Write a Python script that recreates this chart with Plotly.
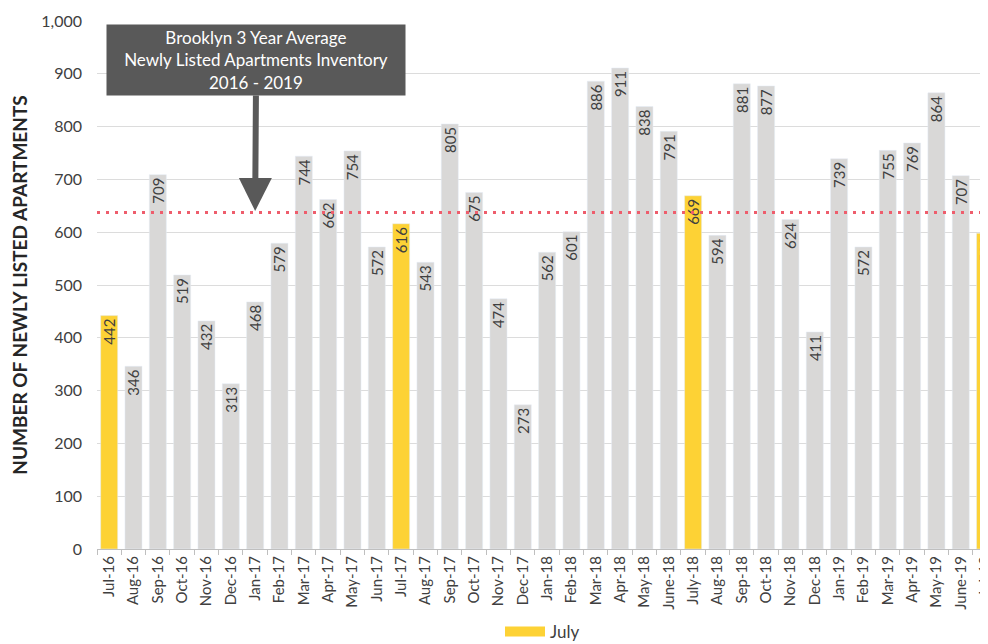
import plotly.graph_objects as go

months = ["Jul-16", "Aug-16", "Sep-16", "Oct-16", "Nov-16", "Dec-16", "Jan-17", "Feb-17",
          "Mar-17", "Apr-17", "May-17", "Jun-17", "Jul-17", "Aug-17", "Sep-17", "Oct-17",
          "Nov-17", "Dec-17", "Jan-18", "Feb-18", "Mar-18", "Apr-18", "May-18", "June-18",
          "July-18", "Aug-18", "Sep-18", "Oct-18", "Nov-18", "Dec-18", "Jan-19", "Feb-19",
          "Mar-19", "Apr-19", "May-19", "June-19", "Jul-19"]
listings = [442, 346, 709, 519, 432, 313, 468, 579, 744, 662, 754, 572, 616, 543, 805, 675,
            474, 273, 562, 601, 886, 911, 838, 791, 669, 594, 881, 877, 624, 411, 739, 572,
            755, 769, 864, 707, 598]
july_months = ["Jul-16", "Jul-17", "July-18", "Jul-19"]
y_ticks = list(range(0, 1001, 100))

average = sum(listings) / len(listings)

GRAY = "#D9D8D7"
YELLOW = "#FDD235"
TEXT = "#404040"
FONT = "Lato, 'Open Sans', sans-serif"

is_july = [m in july_months for m in months]
other_vals = [None if j else v for v, j in zip(listings, is_july)]
july_vals = [v if j else None for v, j in zip(listings, is_july)]

fig = go.Figure()
fig.add_trace(go.Bar(
    x=months, y=other_vals, marker_color=GRAY, showlegend=False,
    text=[None if v is None else str(v) for v in other_vals],
    textposition="inside", insidetextanchor="end", textangle=-90,
    textfont=dict(size=15, color=TEXT, family=FONT), hoverinfo="x+y",
))
fig.add_trace(go.Bar(
    x=months, y=july_vals, marker_color=YELLOW, showlegend=False,
    text=[None if v is None else str(v) for v in july_vals],
    textposition="inside", insidetextanchor="end", textangle=-90,
    textfont=dict(size=15, color=TEXT, family=FONT), hoverinfo="x+y",
))
fig.add_trace(go.Scatter(
    x=[None], y=[None], mode="lines", name="July",
    line=dict(color=YELLOW, width=13),
))

fig.add_shape(type="line", xref="paper", x0=0, x1=1, yref="y", y0=average, y1=average,
              line=dict(color="#EE5D6C", width=3, dash="3px,6px"), layer="above")

fig.add_annotation(
    x="Jan-17", y=average + 3, xref="x", yref="y",
    text="Brooklyn 3 Year Average<br>Newly Listed Apartments Inventory<br>2016 - 2019",
    showarrow=True, arrowhead=2, arrowsize=1.1, arrowwidth=6, arrowcolor="#595959",
    ax=1, ay=-151, axref="pixel", ayref="pixel",
    bgcolor="#595959", font=dict(color="white", size=17, family=FONT),
    width=296, height=68, borderpad=1, align="center",
)

# page body adds an 8px offset; the figure is sized so its plot lands where the reference's does
fig.update_layout(
    width=980, height=636,
    margin=dict(l=89, r=0, t=13, b=95),
    plot_bgcolor="white", paper_bgcolor="white",
    barmode="overlay", bargap=0.3,
    font=dict(family=FONT, color=TEXT),
    uniformtext=dict(minsize=15, mode="show"),
    legend=dict(orientation="h", x=0.5, xanchor="center", y=0.019, yanchor="middle",
                yref="container", itemwidth=40, font=dict(size=17, color=TEXT, family=FONT)),
    xaxis=dict(
        type="category", categoryorder="array", categoryarray=months,
        range=[-0.5, 36.12], tickangle=-90, tickfont=dict(size=15, color=TEXT, family=FONT),
        showline=True, linecolor="#BFBFBF", linewidth=1,
        ticks="outside", tickson="boundaries", ticklen=5, tickcolor="#BFBFBF",
        showgrid=False, automargin=False,
    ),
    yaxis=dict(
        range=[0, 1000], tickvals=y_ticks, tickformat=",",
        tickfont=dict(size=16, color=TEXT, family=FONT),
        showgrid=True, gridcolor="#DCDCDC", gridwidth=1, zeroline=False,
        ticks="", ticklabelstandoff=14, automargin=False,
        title=dict(text="<b>NUMBER OF NEWLY LISTED APARTMENTS</b>",
                   font=dict(size=19, color="#262626", family=FONT), standoff=17),
    ),
)

fig.write_html("out.html")
